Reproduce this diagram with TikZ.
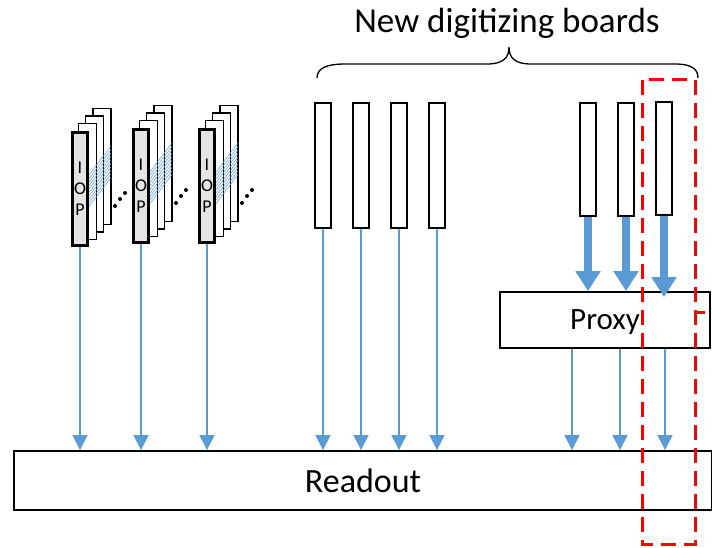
\documentclass[tikz,border=0pt]{standalone}
\usepackage{fontspec}
\setmainfont{Carlito}
\usetikzlibrary{arrows.meta,positioning}
\definecolor{linkblue}{HTML}{5B9BD5}
\definecolor{iopgray}{HTML}{E4E4E4}

\begin{document}
\begin{tikzpicture}[x=1pt,y=-1pt,node distance=38pt,
    link/.style={linkblue,line width=1.2pt,-{Triangle[width=15pt,length=15pt]}},
    feed/.style={linkblue,line width=8pt,-{Triangle[width=24pt,length=20pt]}}]
  \tikzstyle{board}=[draw,line width=2.4pt,fill=white,inner sep=0pt,
                     minimum width=15.6pt,minimum height=124.6pt]
  \tikzstyle{iop}=[board,fill=iopgray,line width=3pt,minimum width=15pt,
                   minimum height=113pt,align=center,
                   font=\fontsize{18}{21}\selectfont]
  \tikzstyle{box}=[draw,line width=1.8pt,fill=white,inner sep=0pt]
  \useasboundingbox (0,0) rectangle (712,548);

  \node[box,minimum width=698pt,minimum height=59pt,
        font=\fontsize{34}{34}\selectfont] (readout) at (363,480.5) {Readout};
  \node[box,minimum width=210pt,minimum height=56pt,text depth=0pt,
        font=\fontsize{31}{31}\selectfont] (proxy) at (605,320) {Proxy};

  \foreach \s/\x/\y in {1/80/189,2/141/186,3/207/186} {
    \foreach \k in {3,2,1}
      \draw[line width=1.3pt,fill=white] (\x-9+7.3*\k,\y-58-7.5*\k) rectangle +(18,116);
    \foreach \h in {0,...,9}
      \draw[linkblue,line width=0.5pt] (\x+9,\y-14+3.5*\h) -- +(22,-29);
    \node[iop] (io\s) at (\x,\y) {I\\O\\P};
    \fill (\x+35,\y+17) circle (2pt) (\x+40,\y+10) circle (2pt) (\x+45,\y+4) circle (2pt);
    \draw[link] (io\s.south) -- (io\s.south |- readout.north);
  }

  \node[board] (m1) at (323,165.5) {};
  \node[board] (m2) [right of=m1] {};
  \node[board] (m3) [right of=m2] {};
  \node[board] (m4) [right of=m3] {};
  \foreach \i in {1,...,4}
    \draw[link] (m\i.south) -- (m\i.south |- readout.north);

  \node[board,minimum height=113pt] (r1) at (588,159.5) {};
  \node[board,minimum height=113pt] (r2) [right of=r1] {};
  \node[board,minimum height=113pt] (r3) [right of=r2,yshift=1pt] {};
  \draw[feed] (r1.south) -- (r1.south |- proxy.north);
  \draw[feed] (r2.south) -- (r2.south |- proxy.north);
  \draw[feed,shorten >=-6pt] (r3.south) -- (r3.south |- proxy.north);
  \foreach \px in {572,620,665}
    \draw[link] (\px,0 |- proxy.south) -- (\px,0 |- readout.north);

  \draw[line width=1.3pt] (317,78) .. controls (317,68) and (327,64) .. (345,64)
    -- (487,64) .. controls (503,64) and (509,58) .. (509,47)
    .. controls (509,58) and (515,64) .. (531,64) -- (675,64)
    .. controls (693,64) and (698,70) .. (698,78);
  \node[font=\fontsize{35}{35}\selectfont] (title) at (507,23) {New digitizing boards};

  \draw[red,line width=3pt,dash pattern=on 15pt off 8pt] (642,80) rectangle (695,544);
  \draw[red,line width=3pt] (695,312) -- (705,312);
\end{tikzpicture}
\end{document}
